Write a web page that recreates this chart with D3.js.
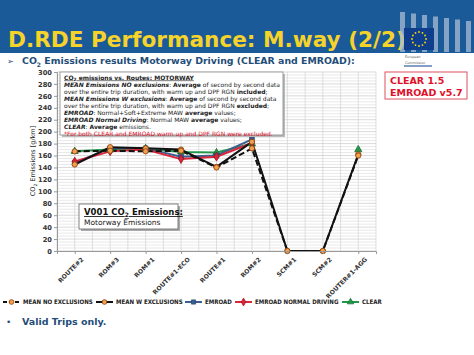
<!DOCTYPE html>
<html><head><meta charset="utf-8">
<script src="https://cdn.jsdelivr.net/npm/d3@7"></script>
<style>body{margin:0;background:#fff;}svg{display:block;}</style>
</head><body>
<svg id="c" width="474" height="355"></svg>
<script>
const categories = ["ROUTE#2","ROM#3","ROM#1","ROUTE#1-ECO","ROUTE#1","ROM#2","SCM#1","SCM#2","ROUTER#1-AGG"];
const meanNoExcl = [167,168,167,168,140,172,0,0,160];
const meanWExcl  = [145,174,172,170,141,183,0,0,162];
const emroad     = [148,172,172,158,160,187,null,null,null];
const emroadNormal=[150,167,170,154,158,181,null,null,null];
const clear      = [167,170,172,166,165,180,null,null,170];
const yTicks = [0,20,40,60,80,100,120,140,160,180,200,220,240,260,280,300];
const legendNames = ["MEAN NO EXCLUSIONS","MEAN W EXCLUSIONS","EMROAD","EMROAD NORMAL DRIVING","CLEAR"];

const svg = d3.select("#c");
const FONT = "DejaVu Sans, Verdana, sans-serif";
const CFONT = "DejaVu Sans Condensed, DejaVu Sans, sans-serif";
// header
svg.append("rect").attr("x",0).attr("y",0).attr("width",474).attr("height",53).attr("fill","#1b5a99");
svg.append("text").attr("x",8).attr("y",47).attr("font-family",FONT).attr("font-weight","bold")
  .attr("font-size",21.6).attr("fill","#f5d32a").text("D.RDE Performance: M.way (2/2)");
// EU logo
const logo = svg.append("g");
for(let i=0;i<7;i++){
  logo.append("rect").attr("x",400+i*11).attr("y",12+i*1.5).attr("width",5).attr("height",40-i*1.5).attr("fill","#a9bdd4").attr("opacity",0.75);
}
logo.append("rect").attr("x",404).attr("y",28).attr("width",30).attr("height",22).attr("fill","#0f3f8c");
for(let k=0;k<12;k++){
  const a=k*Math.PI/6;
  logo.append("circle").attr("cx",419+7*Math.cos(a)).attr("cy",39+7*Math.sin(a)).attr("r",0.9).attr("fill","#ffdd00");
}
logo.append("rect").attr("x",402).attr("y",53).attr("width",72).attr("height",15).attr("fill","#fff");
logo.append("text").attr("x",405).attr("y",57.5).attr("font-family",FONT).attr("font-size",3.3).attr("fill","#555").text("European");
logo.append("text").attr("x",405).attr("y",63.5).attr("font-family",FONT).attr("font-size",3.3).attr("fill","#555").text("Commission");
logo.append("line").attr("x1",404).attr("x2",432).attr("y1",66).attr("y2",66).attr("stroke","#0f3f8c").attr("stroke-width",1);

// subtitle
svg.append("text").attr("x",7).attr("y",64).attr("font-family",FONT).attr("font-size",8).attr("fill","#1f4e79").text("➢");
const st = svg.append("text").attr("x",22).attr("y",64).attr("font-family",FONT).attr("font-weight","bold")
  .attr("font-size",9.4).attr("fill","#1f4e79");
st.append("tspan").text("CO");
st.append("tspan").attr("font-size",6).attr("dy",2.5).text("2");
st.append("tspan").attr("dy",-2.5).text(" Emissions results Motorway Driving (CLEAR and EMROAD):");

// plot
const x = d3.scalePoint().domain(categories).range([57,376]).padding(0.5);
const y = d3.scaleLinear().domain([0,300]).range([251,72]);
const g = svg.append("g");
for(let v=0; v<=300; v+=5){
  g.append("line").attr("x1",57).attr("x2",376).attr("y1",y(v)).attr("y2",y(v))
   .attr("stroke", v%20===0?"#c8c8c8":"#e0e0e0").attr("stroke-width",0.7);
}
const step = x.step();
for(let i=0;i<=categories.length*2;i++){
  const xx = 57 + i*step/2;
  g.append("line").attr("x1",xx).attr("x2",xx).attr("y1",y(0)).attr("y2",y(300))
   .attr("stroke","#d2d2d2").attr("stroke-width",0.7);
}
// axes
const yAxis = d3.axisLeft(y).tickValues(yTicks).tickSize(3).tickPadding(2);
const ya = svg.append("g").attr("transform","translate(57,0)").call(yAxis);
ya.select(".domain").attr("stroke","#999");
ya.selectAll(".tick line").attr("stroke","#999");
ya.selectAll("text").attr("font-family",FONT).attr("font-weight","bold").attr("font-size",6.7).attr("fill","#333");
const xAxis = d3.axisBottom(x).tickSize(3).tickPadding(2);
const xa = svg.append("g").attr("transform","translate(0,251)").call(xAxis);
xa.select(".domain").attr("stroke","#999");
xa.selectAll(".tick line").attr("stroke","#999");
xa.selectAll("text").attr("font-family",FONT).attr("font-weight","bold").attr("font-size",6.2).attr("fill","#333")
  .attr("text-anchor","end").attr("transform","translate(4,4) rotate(-45)").attr("dy","0.3em");
// y title
const yt = svg.append("text").attr("transform","translate(35,161) rotate(-90)").attr("text-anchor","middle")
  .attr("font-family",FONT).attr("font-size",6.5).attr("fill","#222");
yt.append("tspan").text("CO");
yt.append("tspan").attr("font-size",4.5).attr("dy",2).text("2");
yt.append("tspan").attr("dy",-2).text(" Emissions [g/km]");

// series
const series = [
  {name:legendNames[0], data:meanNoExcl, color:"#111", dash:"6,3", w:2, marker:"circle", mfill:"#f0a050", mstroke:"#8a3a00"},
  {name:legendNames[1], data:meanWExcl, color:"#111", dash:null, w:2, marker:"circle", mfill:"#f0a050", mstroke:"#8a3a00"},
  {name:legendNames[2], data:emroad, color:"#3b5f8f", dash:null, w:2, marker:"square", mfill:"#3b5f8f", mstroke:"#2a4770"},
  {name:legendNames[3], data:emroadNormal, color:"#d9263a", dash:null, w:2, marker:"diamond", mfill:"#d9263a", mstroke:"#a0101f"},
  {name:legendNames[4], data:clear, color:"#22994a", dash:null, w:2, marker:"triangle", mfill:"#22994a", mstroke:"#156b30"}
];
const symMap = {circle:d3.symbolCircle, square:d3.symbolSquare, diamond:d3.symbolDiamond, triangle:d3.symbolTriangle};
const line = d3.line().defined(d=>d.v!==null).x(d=>x(d.c)).y(d=>y(d.v));
const drawOrder = [4,2,3,1,0];
drawOrder.forEach(i=>{
  const s = series[i];
  const pts = categories.map((c,j)=>({c, v:s.data[j]}));
  g.append("path").datum(pts).attr("d",line).attr("fill","none").attr("stroke",s.color)
   .attr("stroke-width",s.w).attr("stroke-dasharray",s.dash).attr("stroke-linejoin","round");
});
drawOrder.forEach(i=>{
  const s = series[i];
  categories.forEach((c,j)=>{
    if(s.data[j]===null) return;
    g.append("path").attr("d",d3.symbol().type(symMap[s.marker]).size(22)())
     .attr("transform",`translate(${x(c)},${y(s.data[j])})`).attr("fill",s.mfill).attr("stroke",s.mstroke).attr("stroke-width",0.8);
  });
});

// note box
const nb = svg.append("g");
nb.append("rect").attr("x",62).attr("y",74).attr("width",223).attr("height",63).attr("fill","#bbb");
nb.append("rect").attr("x",60).attr("y",72).attr("width",223).attr("height",63).attr("fill","#fff").attr("stroke","#888").attr("stroke-width",0.8);
const nf = 6.0;
const nl = [
  [{t:"CO",u:1,b:1},{t:"2",u:1,b:1,sub:1},{t:" emissions vs. Routes: MOTORWAY",u:1,b:1}],
  [{t:"MEAN Emissions NO exclusions",b:1,i:1},{t:": "},{t:"Average",b:1},{t:"  of second by second data"}],
  [{t:"over the entire trip duration,  with warm up and DPF RGN "},{t:"included",b:1},{t:";"}],
  [{t:"MEAN Emissions W exclusions",b:1,i:1},{t:": "},{t:"Average",b:1},{t:"  of second by second data"}],
  [{t:"over the entire trip duration,  with warm up and DPF RGN "},{t:"excluded",b:1},{t:";"}],
  [{t:"EMROAD",b:1,i:1},{t:": Normal+Soft+Extreme MAW "},{t:"average",b:1},{t:" values;"}],
  [{t:"EMROAD Normal Driving",b:1,i:1},{t:": Normal MAW "},{t:"average",b:1},{t:" values;"}],
  [{t:"CLEAR",b:1,i:1},{t:": "},{t:"Average",b:1},{t:" emissions."}],
  [{t:"*For both CLEAR and EMROAD warm up and DPF RGN were excluded.",red:1}]
];
nl.forEach((parts,k)=>{
  const t = nb.append("text").attr("x",64).attr("y",79.5+k*7).attr("font-family",FONT).attr("font-size",nf).attr("fill","#222");
  parts.forEach(p=>{
    const ts = t.append("tspan").text(p.t);
    if(p.b) ts.attr("font-weight","bold");
    if(p.i) ts.attr("font-style","italic");
    if(p.u) ts.attr("text-decoration","underline");
    if(p.red) ts.attr("fill","#e0102a");
    if(p.sub) ts.attr("font-size",4.4).attr("dy",1.5);
    else if(k===0 && p.t!=="CO") ts.attr("dy",-1.5);
  });
});

// V001 box
const vb = svg.append("g");
vb.append("rect").attr("x",81).attr("y",206).attr("width",99).attr("height",25).attr("fill","#aaa");
vb.append("rect").attr("x",79).attr("y",204).attr("width",99).attr("height",25).attr("fill","#fff").attr("stroke","#666").attr("stroke-width",0.8);
const v1 = vb.append("text").attr("x",84).attr("y",215).attr("font-family",FONT).attr("font-weight","bold").attr("font-size",8.5).attr("fill","#111").attr("text-decoration","underline");
v1.append("tspan").text("V001 CO");
v1.append("tspan").attr("font-size",6).attr("dy",2).text("2");
v1.append("tspan").attr("dy",-2).text(" Emissions:");
vb.append("text").attr("x",84).attr("y",225).attr("font-family",FONT).attr("font-size",7.5).attr("fill","#222").text("Motorway Emissions");

// version box
svg.append("rect").attr("x",385).attr("y",72).attr("width",82).attr("height",27).attr("fill","#fff").attr("stroke","#e05060").attr("stroke-width",1);
svg.append("text").attr("x",390).attr("y",84).attr("font-family",FONT).attr("font-weight","bold").attr("font-size",9.5).attr("fill","#e0102a").text("CLEAR 1.5");
svg.append("text").attr("x",390).attr("y",95.5).attr("font-family",FONT).attr("font-weight","bold").attr("font-size",9.5).attr("fill","#e0102a").text("EMROAD v5.7");

// legend
const lgX = [3,96,185,235,342];
series.forEach((s,i)=>{
  const lg = svg.append("g").attr("transform",`translate(${lgX[i]},302)`);
  lg.append("line").attr("x1",0).attr("x2",17).attr("y1",0).attr("y2",0).attr("stroke",s.color).attr("stroke-width",2).attr("stroke-dasharray",s.dash?"4,2":null);
  lg.append("path").attr("d",d3.symbol().type(symMap[s.marker]).size(18)()).attr("transform","translate(8.5,0)").attr("fill",s.mfill).attr("stroke",s.mstroke).attr("stroke-width",0.7);
  lg.append("text").attr("x",20).attr("y",2.3).attr("font-family",CFONT).attr("font-stretch","condensed").attr("font-weight","bold").attr("font-size",6.1).attr("fill","#222").text(s.name);
});

// footer
svg.append("text").attr("x",6).attr("y",325).attr("font-family",FONT).attr("font-size",9).attr("fill","#1f4e79").text("•");
svg.append("text").attr("x",22).attr("y",325).attr("font-family",FONT).attr("font-weight","bold").attr("font-size",9.5).attr("fill","#1f4e79").text("Valid Trips only.");
</script>
</body></html>
